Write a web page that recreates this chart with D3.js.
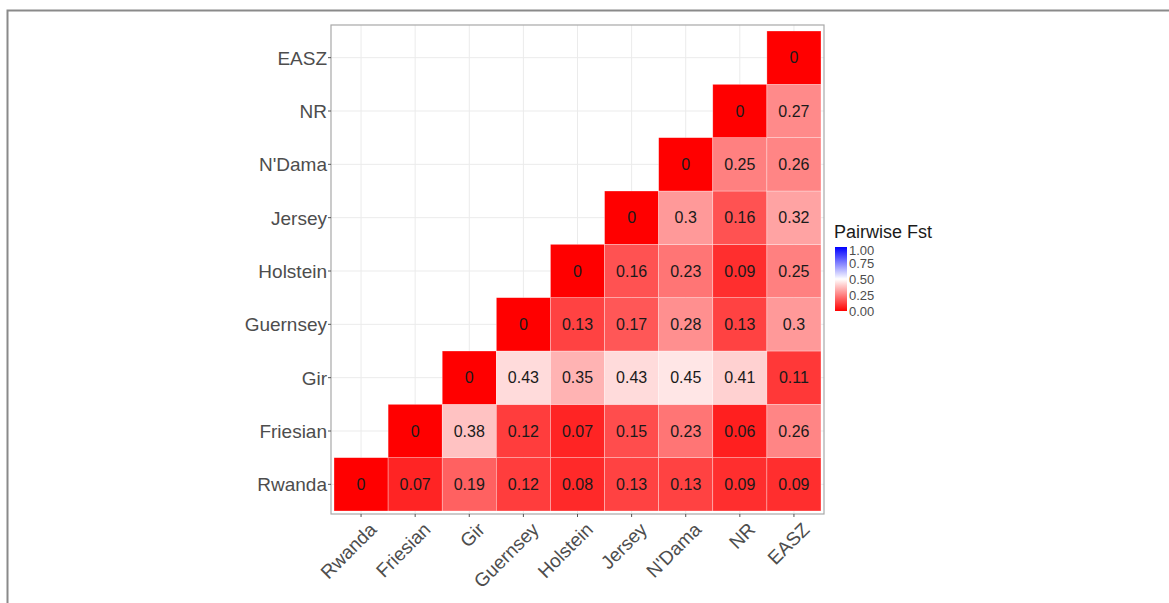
<!DOCTYPE html>
<html>
<head>
<meta charset="utf-8">
<script src="https://cdn.jsdelivr.net/npm/d3@7.9.0/dist/d3.min.js"></script>
<style>
  body { margin: 0; background: #fff; }
  svg { display: block; font-family: "Liberation Sans", Arial, Helvetica, sans-serif; }
</style>
</head>
<body>
<svg id="chart" width="1169" height="603"></svg>
<script>
// breeds, bottom to top on y and left to right on x
const breeds = ['Rwanda', 'Friesian', 'Gir', 'Guernsey', 'Holstein', 'Jersey', "N'Dama", 'NR', 'EASZ'];

// one row per breed, values for the breed itself and every breed to its right
const rwandaRow   = [0, 0.07, 0.19, 0.12, 0.08, 0.13, 0.13, 0.09, 0.09];
const friesianRow = [0, 0.38, 0.12, 0.07, 0.15, 0.23, 0.06, 0.26];
const girRow      = [0, 0.43, 0.35, 0.43, 0.45, 0.41, 0.11];
const guernseyRow = [0, 0.13, 0.17, 0.28, 0.13, 0.3];
const holsteinRow = [0, 0.16, 0.23, 0.09, 0.25];
const jerseyRow   = [0, 0.3, 0.16, 0.32];
const ndamaRow    = [0, 0.25, 0.26];
const nrRow       = [0, 0.27];
const easzRow     = [0];

const rows = [rwandaRow, friesianRow, girRow, guernseyRow, holsteinRow, jerseyRow, ndamaRow, nrRow, easzRow];
const legendTicks = [0, 0.25, 0.5, 0.75, 1];

const cells = [];
rows.forEach((row, i) => {
  row.forEach((v, k) => {
    cells.push({ y: breeds[i], x: breeds[i + k], value: v });
  });
});

const svg = d3.select('#chart');

// outer frame of the figure
svg.append('path')
  .attr('d', 'M7.5,603 L7.5,10.5 L1169,10.5')
  .attr('fill', 'none')
  .attr('stroke', '#8a8a8a')
  .attr('stroke-width', 2);

const panel = { left: 331, top: 25, right: 824, bottom: 514 };
const pad = 3;

const x = d3.scaleBand()
  .domain(breeds)
  .range([panel.left + pad, panel.right - pad]);

const y = d3.scaleBand()
  .domain(breeds)
  .range([panel.bottom - pad, panel.top + 6]);

const color = d3.scaleLinear()
  .domain([0, 0.5, 1])
  .range(['#ff0000', '#ffffff', '#0000ff'])
  .interpolate(d3.interpolateRgb)
  .clamp(true);

// grid
const grid = svg.append('g');
grid.selectAll('line.v')
  .data(breeds)
  .join('line')
  .attr('x1', d => x(d) + x.bandwidth() / 2)
  .attr('x2', d => x(d) + x.bandwidth() / 2)
  .attr('y1', panel.top)
  .attr('y2', panel.bottom)
  .attr('stroke', '#ebebeb')
  .attr('stroke-width', 1);
grid.selectAll('line.h')
  .data(breeds)
  .join('line')
  .attr('y1', d => y(d) + y.bandwidth() / 2)
  .attr('y2', d => y(d) + y.bandwidth() / 2)
  .attr('x1', panel.left)
  .attr('x2', panel.right)
  .attr('stroke', '#ebebeb')
  .attr('stroke-width', 1);

// tiles
svg.append('g')
  .selectAll('rect')
  .data(cells)
  .join('rect')
  .attr('x', d => x(d.x))
  .attr('y', d => y(d.y))
  .attr('width', x.bandwidth())
  .attr('height', y.bandwidth())
  .attr('fill', d => color(d.value))
  .attr('stroke', '#ffffff')
  .attr('stroke-opacity', 0.5)
  .attr('stroke-width', 0.6);

svg.append('g')
  .selectAll('text')
  .data(cells)
  .join('text')
  .attr('x', d => x(d.x) + x.bandwidth() / 2)
  .attr('y', d => y(d.y) + y.bandwidth() / 2)
  .attr('dy', '0.36em')
  .attr('text-anchor', 'middle')
  .attr('font-size', 16)
  .attr('fill', '#1a1a1a')
  .text(d => d.value);

// panel border
svg.append('rect')
  .attr('x', panel.left)
  .attr('y', panel.top)
  .attr('width', panel.right - panel.left)
  .attr('height', panel.bottom - panel.top)
  .attr('fill', 'none')
  .attr('stroke', '#a8a8a8')
  .attr('stroke-width', 1.2);

// axes
const xAxis = svg.append('g').attr('transform', `translate(0,${panel.bottom})`);
xAxis.selectAll('line')
  .data(breeds)
  .join('line')
  .attr('x1', d => x(d) + x.bandwidth() / 2)
  .attr('x2', d => x(d) + x.bandwidth() / 2)
  .attr('y1', 0)
  .attr('y2', 3)
  .attr('stroke', '#555');
xAxis.selectAll('text')
  .data(breeds)
  .join('text')
  .attr('transform', d => `translate(${x(d) + x.bandwidth() / 2 + 7},${7}) rotate(-45)`)
  .attr('text-anchor', 'end')
  .attr('dy', '0.72em')
  .attr('font-size', 19)
  .attr('fill', '#4d4d4d')
  .text(d => d);

const yAxis = svg.append('g').attr('transform', `translate(${panel.left},0)`);
yAxis.selectAll('line')
  .data(breeds)
  .join('line')
  .attr('y1', d => y(d) + y.bandwidth() / 2)
  .attr('y2', d => y(d) + y.bandwidth() / 2)
  .attr('x1', 0)
  .attr('x2', -3)
  .attr('stroke', '#555');
yAxis.selectAll('text')
  .data(breeds)
  .join('text')
  .attr('x', -4)
  .attr('y', d => y(d) + y.bandwidth() / 2)
  .attr('dy', '0.36em')
  .attr('text-anchor', 'end')
  .attr('font-size', 19)
  .attr('fill', '#4d4d4d')
  .text(d => d);

// legend
const legend = svg.append('g').attr('transform', 'translate(835,247)');
legend.append('text')
  .attr('x', -1)
  .attr('y', -9)
  .attr('font-size', 18)
  .attr('fill', '#1a1a1a')
  .text('Pairwise Fst');

const barH = 64, barW = 12;
const ly = d3.scaleLinear().domain([0, 1]).range([barH, 0]);
const defs = svg.append('defs');
const grad = defs.append('linearGradient')
  .attr('id', 'fstGrad')
  .attr('x1', 0).attr('y1', 1).attr('x2', 0).attr('y2', 0);
d3.range(0, 1.0001, 0.05).forEach(t => {
  grad.append('stop').attr('offset', t).attr('stop-color', color(t));
});
legend.append('rect')
  .attr('width', barW)
  .attr('height', barH)
  .attr('fill', 'url(#fstGrad)');
legend.selectAll('text.tick')
  .data(legendTicks)
  .join('text')
  .attr('class', 'tick')
  .attr('x', barW + 2)
  .attr('y', d => ly(d) + (d === 1 ? 3 : 0))
  .attr('dy', '0.36em')
  .attr('font-size', 13)
  .attr('fill', '#4d4d4d')
  .text(d => d3.format('.2f')(d));
</script>
</body>
</html>
